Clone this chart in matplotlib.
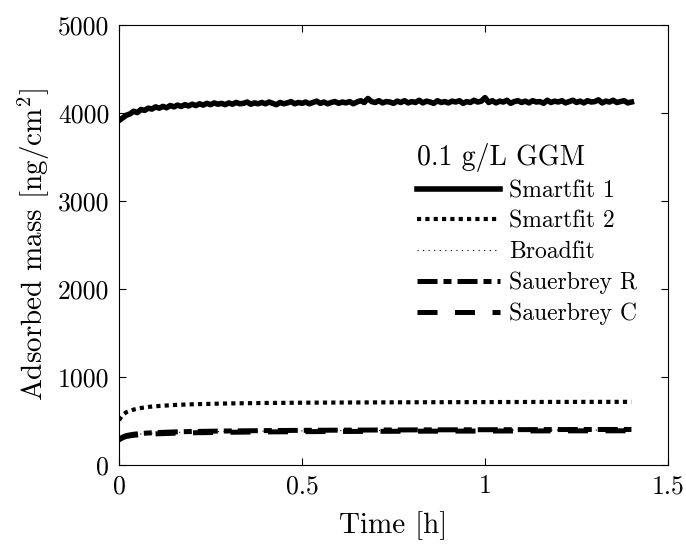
import matplotlib.pyplot as plt
import numpy as np

plt.rcParams['font.family'] = 'cmr10'
plt.rcParams['mathtext.fontset'] = 'cm'
plt.rcParams['axes.unicode_minus'] = False

# Smartfit 1 (noisy), sampled every 0.01 h from 0 to 1.4 h
t_noisy = np.linspace(0, 1.4, 141)
smartfit1 = [3915, 3945, 3975, 3990, 4020, 4005, 4040, 4030, 4055, 4045,
             4070, 4055, 4075, 4060, 4085, 4070, 4090, 4075, 4095, 4080,
             4100, 4085, 4105, 4090, 4110, 4095, 4115, 4100, 4110, 4095,
             4115, 4100, 4120, 4105, 4110, 4125, 4100, 4115, 4105, 4120,
             4105, 4125, 4110, 4095, 4120, 4105, 4115, 4130, 4105, 4120,
             4110, 4125, 4105, 4120, 4135, 4110, 4125, 4105, 4120, 4130,
             4110, 4125, 4115, 4130, 4105, 4125, 4140, 4120, 4165, 4130,
             4120, 4140, 4115, 4130, 4125, 4110, 4135, 4120, 4140, 4115,
             4130, 4120, 4145, 4115, 4135, 4125, 4110, 4140, 4120, 4130,
             4115, 4135, 4125, 4140, 4110, 4130, 4120, 4145, 4125, 4135,
             4175, 4120, 4140, 4115, 4135, 4125, 4145, 4110, 4130, 4140,
             4120, 4135, 4115, 4140, 4125, 4130, 4110, 4145, 4120, 4135,
             4125, 4140, 4115, 4130, 4145, 4120, 4135, 4115, 4140, 4125,
             4130, 4150, 4115, 4135, 4125, 4145, 4120, 4130, 4140, 4115,
             4125]

# smooth curves
t_smooth = [0, 0.01, 0.02, 0.04, 0.06, 0.08, 0.1, 0.15, 0.2, 0.3, 0.4, 0.5, 0.6, 0.8, 1.0, 1.2, 1.4]
smartfit2 = [510, 570, 600, 630, 648, 660, 668, 682, 690, 700, 705, 708, 710, 713, 715, 717, 718]
broadfit = [290, 315, 330, 345, 352, 358, 362, 370, 375, 381, 385, 388, 390, 393, 395, 397, 398]
sauerbrey_r = [290, 318, 335, 350, 358, 364, 368, 376, 381, 387, 391, 394, 396, 399, 401, 403, 404]
sauerbrey_c = [285, 310, 325, 338, 345, 350, 354, 361, 366, 372, 376, 379, 381, 384, 386, 388, 389]

fig = plt.figure(figsize=(6.86, 5.44), dpi=100)
ax = fig.add_axes([0.1735, 0.1452, 0.8003, 0.8088])

ax.plot(t_noisy, smartfit1, color='k', lw=4, label='Smartfit 1')
ax.plot(t_smooth, smartfit2, color='k', lw=3, linestyle=(0, (1, 1)), label='Smartfit 2')
ax.plot(t_smooth, broadfit, color='k', lw=0.8, linestyle=(0, (1, 4)), label='Broadfit')
ax.plot(t_smooth, sauerbrey_r, color='k', lw=3.6, linestyle=(0, (4, 1.2, 1.6, 1.2)), label='Sauerbrey R')
ax.plot(t_smooth, sauerbrey_c, color='k', lw=3.6, linestyle=(0, (4, 3.5)), label='Sauerbrey C')

ax.set_xlim(0, 1.5)
ax.set_ylim(0, 5000)
ax.set_xticks([0, 0.5, 1, 1.5])
ax.set_xticklabels(['0', '0.5', '1', '1.5'])
ax.set_yticks([0, 1000, 2000, 3000, 4000, 5000])
ax.tick_params(direction='in', top=True, right=True, length=5, labelsize=18.5, pad=7)
ax.set_xlabel('Time [h]', fontsize=21, labelpad=9)
ax.set_ylabel('Adsorbed mass [ng/cm$^2$]', fontsize=21, labelpad=4)

leg = ax.legend(title='0.1 g/L GGM', frameon=False, loc='upper left',
                bbox_to_anchor=(0.543, 0.733), fontsize=17, title_fontsize=20,
                handlelength=3.5, handletextpad=0.4, labelspacing=0.36,
                borderaxespad=0, borderpad=0, alignment='left')

fig.savefig('out.png', dpi=100)
